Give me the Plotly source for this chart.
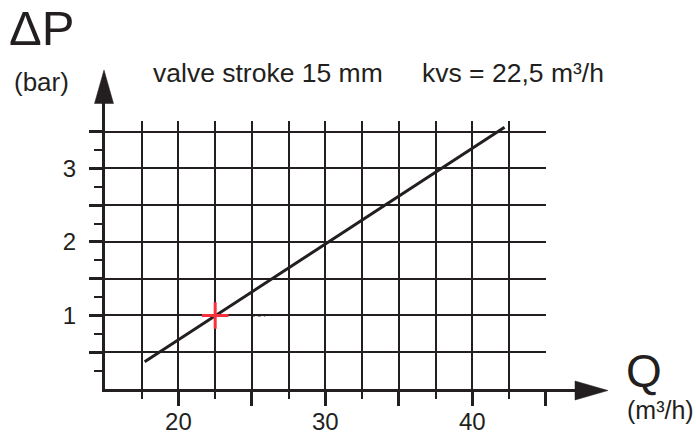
import plotly.graph_objects as go

# ---- data ----
line_q = [17.7, 42.2]          # flow Q (m³/h)
line_dp = [0.37, 3.56]         # pressure drop ΔP (bar)
point_q = [22.5]               # kvs operating point
point_dp = [1.0]
mark_q = [25.0, 25.9]          # small dotted mark
mark_dp = [1.0, 1.0]

x_major = [20, 25, 30, 35, 40, 45]
x_major_text = ["20", "", "30", "", "40", ""]
x_minor = [17.5, 22.5, 27.5, 32.5, 37.5, 42.5]
y_major = [0.5, 1, 1.5, 2, 2.5, 3, 3.5]
y_major_text = ["", "1", "", "2", "", "3", ""]
y_minor = [0.25, 0.75, 1.25, 1.75, 2.25, 2.75, 3.25]

INK = "#231f20"
FONT = "Liberation Sans, Arial, sans-serif"

W, H = 696, 435
ML, MR, MT, MB = 105, 150, 121, 46
PW, PH = W - ML - MR, H - MT - MB
PLOT_BOTTOM = H - MB


def px(x):
    return (x - ML) / PW


def py(y):
    return (PLOT_BOTTOM - y) / PH


fig = go.Figure()
fig.add_trace(go.Scatter(x=line_q, y=line_dp, mode="lines",
                         line=dict(color=INK, width=3), hoverinfo="skip"))
fig.add_trace(go.Scatter(x=mark_q, y=mark_dp, mode="lines",
                         line=dict(color=INK, width=2, dash="dot"), hoverinfo="skip"))
fig.add_trace(go.Scatter(x=point_q, y=point_dp, mode="markers",
                         marker=dict(symbol="cross-thin", size=19,
                                     line=dict(color="#f7303d", width=3)),
                         hoverinfo="skip"))

fig.update_layout(
    width=W, height=H,
    margin=dict(l=ML, r=MR, t=MT, b=MB, autoexpand=False),
    paper_bgcolor="white", plot_bgcolor="white",
    showlegend=False,
    font=dict(family=FONT, color=INK, size=24),
    xaxis=dict(range=[15, 45.02], showline=True, linecolor=INK, linewidth=3,
               automargin=False,
               zeroline=False, tickmode="array", tickvals=x_major, ticktext=x_major_text,
               ticks="outside", ticklen=14, tickwidth=3, tickcolor=INK,
               showgrid=True, gridcolor=INK, gridwidth=1.5,
               tickfont=dict(size=24, color=INK, family=FONT),
               ticklabelstandoff=-5,
               minor=dict(tickmode="array", tickvals=x_minor, ticks="outside",
                          ticklen=7, tickwidth=1.5, tickcolor=INK,
                          showgrid=True, gridcolor=INK, gridwidth=1.5)),
    yaxis=dict(range=[0, PH / 73.54], showline=True, linecolor=INK, linewidth=3,
               automargin=False,
               zeroline=False, tickmode="array", tickvals=y_major, ticktext=y_major_text,
               ticks="outside", ticklen=13, tickwidth=3, tickcolor=INK,
               showgrid=True, gridcolor=INK, gridwidth=1.5,
               tickfont=dict(size=24, color=INK, family=FONT),
               ticklabelstandoff=8,
               minor=dict(tickmode="array", tickvals=y_minor, ticks="outside",
                          ticklen=8, tickwidth=1.5, tickcolor=INK, showgrid=False)),
)

shapes = [
    # x-axis extension and arrowhead
    dict(type="line", xref="paper", yref="paper", x0=px(540), x1=px(580),
         y0=py(390.5), y1=py(390.5), line=dict(color=INK, width=3)),
    dict(type="path", xref="paper", yref="paper",
         path=f"M{px(575)},{py(381)} L{px(608)},{py(390.5)} L{px(575)},{py(400)} Z",
         fillcolor=INK, line=dict(color=INK, width=0.5)),
    # y-axis extension and arrowhead
    dict(type="line", xref="paper", yref="paper", x0=px(103.5), x1=px(103.5),
         y0=py(126), y1=py(100), line=dict(color=INK, width=3)),
    dict(type="path", xref="paper", yref="paper",
         path=f"M{px(94.5)},{py(103.5)} L{px(104)},{py(70)} L{px(113.5)},{py(103.5)} Z",
         fillcolor=INK, line=dict(color=INK, width=0.5)),
]
fig.update_layout(shapes=shapes)


def label(text, x, y, size):
    fig.add_annotation(text=text, xref="paper", yref="paper", x=px(x), y=py(y),
                       xanchor="left", yanchor="middle", showarrow=False,
                       font=dict(size=size, color=INK, family=FONT))


label("ΔP", 7, 28, 49)
label("(bar)", 12, 82, 26)
label("valve stroke 15 mm", 151, 73, 26.5)
label("kvs = 22,5 m³/h", 420, 73, 26.5)
label("Q", 624, 371, 46)
label("(m³/h)", 625, 410, 25)

fig.write_html("out.html", config={"displayModeBar": False},
               post_script="document.body.style.margin='0';document.body.style.overflow='hidden';")
